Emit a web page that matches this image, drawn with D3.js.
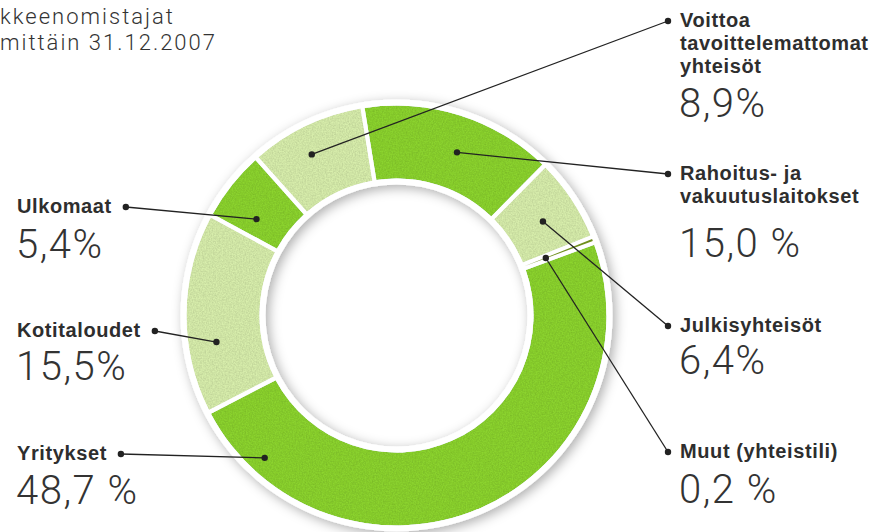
<!DOCTYPE html>
<html>
<head>
<meta charset="utf-8">
<script src="https://cdn.jsdelivr.net/npm/d3@7"></script>
<style>
    body { margin: 0; background: #fff; overflow: hidden; }
    .lbl { font-family: "Liberation Sans", Arial, sans-serif; font-weight: bold;
           font-size: 20px; fill: #2e2e2e; letter-spacing: 0.6px; }
    .num { font-family: Roboto, "Open Sans", sans-serif; font-weight: 300;
           font-size: 40px; fill: #333; letter-spacing: 1.5px; }
    .ttl { font-family: Roboto, "Open Sans", sans-serif; font-weight: 300;
           font-size: 22px; fill: #333; letter-spacing: 2px; }
</style>
</head>
<body>
<script>
// Data, clockwise from the top
var categories = [
    ["Rahoitus- ja", "vakuutuslaitokset"],
    ["Julkisyhteisöt"],
    ["Muut (yhteistili)"],
    ["Yritykset"],
    ["Kotitaloudet"],
    ["Ulkomaat"],
    ["Voittoa", "tavoittelemattomat", "yhteisöt"]
];
var shares = [15.0, 6.4, 0.2, 48.7, 15.5, 5.4, 8.9];
var shareLabels = ["15,0 %", "6,4%", "0,2 %", "48,7 %", "15,5%", "5,4%", "8,9%"];
var shade = ["dark", "light", "olive", "dark", "light", "dark", "light"];
var titleLines = ["kkeenomistajat", "mittäin 31.12.2007"];

// Layout: where each label sits and where its leader touches the ring
// side, first baseline, number baseline, anchor (t along slice, radius)
var layout = [
    {side: "right", y: 180, ny: 257, t: 0.55, r: 174},
    {side: "right", y: 332, ny: 374, t: 0.54, r: 174},
    {side: "right", y: 458, ny: 503, t: 0.5, r: 160},
    {side: "left", y: 460, ny: 504, t: 0.885, r: 194},
    {side: "left", y: 337, ny: 380, t: 0.34, r: 182},
    {side: "left", y: 213, ny: 258, t: 0.31, r: 170},
    {side: "right", y: 27, ny: 117, t: 0.43, r: 182}
];

var width = 879,
    height = 532,
    cx = 396.5,
    cy = 315.5,
    outerR = 210,
    innerR = 137,
    leftX = 17,
    rightX = 680,
    lineGap = 23;

var colors = {dark: "#8cd42e", light: "#d8eeac", olive: "#6f8f1c"};

var svg = d3.select("body").append("svg")
    .attr("width", width)
    .attr("height", height);

var defs = svg.append("defs");

// soft shadow under the white rim
var shadow = defs.append("filter").attr("id", "shadow")
    .attr("x", "-20%").attr("y", "-20%")
    .attr("width", "140%").attr("height", "140%");
shadow.append("feDropShadow")
    .attr("dx", 3).attr("dy", 3)
    .attr("stdDeviation", 6)
    .attr("flood-color", "#000")
    .attr("flood-opacity", 0.32);

// fabric-like grain on the slices
var tex = defs.append("filter").attr("id", "tex");
tex.append("feTurbulence")
    .attr("type", "fractalNoise")
    .attr("baseFrequency", 0.7)
    .attr("numOctaves", 2)
    .attr("seed", 3)
    .attr("result", "noise");
tex.append("feColorMatrix")
    .attr("in", "noise")
    .attr("type", "matrix")
    .attr("values", "0.4 0 0 0 0.7  0.4 0 0 0 0.7  0.4 0 0 0 0.7  0 0 0 0 1")
    .attr("result", "grain");
tex.append("feBlend")
    .attr("in", "SourceGraphic")
    .attr("in2", "grain")
    .attr("mode", "multiply")
    .attr("result", "mix");
tex.append("feComposite")
    .attr("in", "mix")
    .attr("in2", "SourceGraphic")
    .attr("operator", "in");

// Title, at the top left corner
svg.selectAll(".ttl")
    .data(titleLines)
    .enter()
    .append("text")
    .attr("class", "ttl")
    .attr("x", 0)
    .attr("y", function(d, i) { return 24 + i * 26; })
    .text(function(d) { return d; });

var g = svg.append("g")
    .attr("transform", "translate(" + cx + "," + cy + ")");

var startA = -9.3 * Math.PI / 180;

var pie = d3.pie()
    .sort(null)
    .value(function(d) { return d; })
    .startAngle(startA)
    .endAngle(startA + 2 * Math.PI)
    .padAngle(0.016);

var arcs = pie(shares);

var arc = d3.arc()
    .innerRadius(innerR)
    .outerRadius(outerR);

// white rim behind the ring
g.append("path")
    .attr("d", d3.arc()
        .innerRadius(innerR - 6)
        .outerRadius(outerR + 6)
        .startAngle(0)
        .endAngle(2 * Math.PI)())
    .attr("fill", "#fff")
    .attr("filter", "url(#shadow)");

g.selectAll(".slice")
    .data(arcs)
    .enter()
    .append("path")
    .attr("class", "slice")
    .attr("d", arc)
    .attr("fill", function(d, i) { return colors[shade[i]]; })
    .attr("filter", function(d, i) {
        return shade[i] === "olive" ? null : "url(#tex)";
    });

// labels
var labels = svg.selectAll(".label")
    .data(arcs)
    .enter()
    .append("g")
    .attr("class", "label");

labels.each(function(d, i) {
    var L = layout[i];
    var x = L.side === "left" ? leftX : rightX;
    var sel = d3.select(this);

    categories[i].forEach(function(line, k) {
        sel.append("text")
            .attr("class", "lbl")
            .attr("x", x)
            .attr("y", L.y + k * lineGap)
            .text(line);
    });
    var firstW = sel.select("text").node().getComputedTextLength();

    sel.append("text")
        .attr("class", "num")
        .attr("x", x - 1)
        .attr("y", L.ny)
        .text(shareLabels[i]);

    // leader line from label dot to a point inside the slice
    var a = d.startAngle + (d.endAngle - d.startAngle) * L.t;
    var px = cx + L.r * Math.sin(a),
        py = cy - L.r * Math.cos(a);
    var dx = L.side === "left" ? x + firstW + 14 : x - 12,
        dy = L.y - 6;

    sel.append("line")
        .attr("x1", dx).attr("y1", dy)
        .attr("x2", px).attr("y2", py)
        .attr("stroke", "#222")
        .attr("stroke-width", 1.3);
    sel.append("circle")
        .attr("cx", dx).attr("cy", dy).attr("r", 3.2)
        .attr("fill", "#222");
    sel.append("circle")
        .attr("cx", px).attr("cy", py).attr("r", 3.2)
        .attr("fill", "#222");
});
</script>
</body>
</html>
